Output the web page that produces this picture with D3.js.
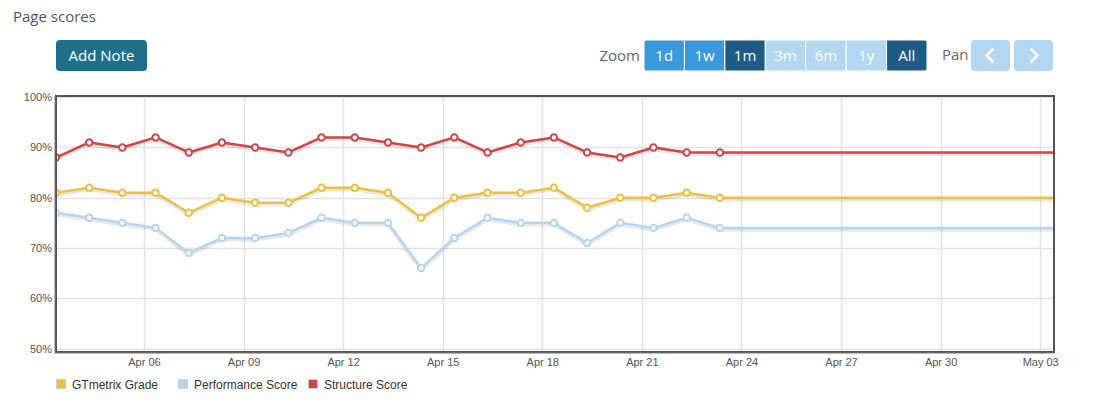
<!DOCTYPE html>
<html>
<head>
<meta charset="utf-8">
<script src="https://cdn.jsdelivr.net/npm/d3@7"></script>
<style>
  body { margin: 0; background: #fff; }
  svg { display: block; }
</style>
</head>
<body>
<svg id="chart" width="1106" height="404"></svg>
<script>
// data
const days = ["2015-04-03", "2015-04-04", "2015-04-05", "2015-04-06", "2015-04-07", "2015-04-08", "2015-04-09",
    "2015-04-10", "2015-04-11", "2015-04-12", "2015-04-13", "2015-04-14", "2015-04-15", "2015-04-16",
    "2015-04-17", "2015-04-18", "2015-04-19", "2015-04-20", "2015-04-21", "2015-04-22", "2015-04-23"];
const gtmetrix = [81, 82, 81, 81, 77, 80, 79, 79, 82, 82, 81, 76, 80, 81, 81, 82, 78, 80, 80, 81, 80];
const performance = [77, 76, 75, 74, 69, 72, 72, 73, 76, 75, 75, 66, 72, 76, 75, 75, 71, 75, 74, 76, 74];
const structure = [88, 91, 90, 92, 89, 91, 90, 89, 92, 92, 91, 90, 92, 89, 91, 92, 89, 88, 90, 89, 89];
const seriesNames = ["GTmetrix Grade", "Performance Score", "Structure Score"];
const seriesColors = ["#efc03f", "#b2d6f2", "#cc4746"];
const yTicks = [50, 60, 70, 80, 90, 100];
const xTicks = ["2015-04-06", "2015-04-09", "2015-04-12", "2015-04-15", "2015-04-18", "2015-04-21",
    "2015-04-24", "2015-04-27", "2015-04-30", "2015-05-03"];
const rangeStart = "2015-04-03 08:24", rangeEnd = "2015-05-03 10:00";
const zoomLabels = ["1d", "1w", "1m", "3m", "6m", "1y", "All"];
const zoomState = ["on", "on", "active", "off", "off", "off", "active"];

const parseTime = d3.timeParse("%Y-%m-%d %H:%M"),
    parseDay = d3.timeParse("%Y-%m-%d");
const svg = d3.select("#chart");

const pLeft = 56, pRight = 1054, pTop = 96, pBottom = 352;

const x = d3.scaleTime()
    .domain([parseTime(rangeStart), parseTime(rangeEnd)])
    .range([pLeft, pRight]);
const y = d3.scaleLinear().domain([50, 100]).range([348.5, 97.2]);

// header
svg.append("text").attr("x", 13).attr("y", 22)
    .attr("font-family", "Open Sans").attr("font-size", 15).attr("fill", "#555")
    .text("Page scores");

svg.append("rect").attr("x", 56).attr("y", 40).attr("width", 91).attr("height", 31)
    .attr("rx", 4).attr("fill", "#1f6f8b");
svg.append("text").attr("x", 101.5).attr("y", 61).attr("text-anchor", "middle")
    .attr("font-family", "Open Sans").attr("font-size", 15).attr("fill", "#fff")
    .text("Add Note");

svg.append("text").attr("x", 640).attr("y", 61).attr("text-anchor", "end")
    .attr("font-family", "Open Sans").attr("font-size", 15).attr("fill", "#666")
    .text("Zoom");

const btnFill = { on: "#3a98dc", active: "#1e5a84", off: "#b4d7f1" };
const bx = d3.scaleBand().domain(zoomLabels).range([644, 927]);
const zb = svg.append("g");
zb.append("clipPath").attr("id", "zclip").append("rect")
    .attr("x", 644).attr("y", 40).attr("width", 283).attr("height", 31).attr("rx", 4);
const zg = zb.append("g").attr("clip-path", "url(#zclip)");
zg.selectAll("rect").data(zoomLabels).join("rect")
    .attr("x", d => bx(d)).attr("y", 40).attr("width", bx.bandwidth()).attr("height", 31)
    .attr("fill", (d, i) => btnFill[zoomState[i]])
    .attr("stroke", "#fff").attr("stroke-width", 1);
zb.selectAll("text").data(zoomLabels).join("text")
    .attr("x", d => bx(d) + bx.bandwidth() / 2).attr("y", 61).attr("text-anchor", "middle")
    .attr("font-family", "Open Sans").attr("font-size", 15).attr("fill", "#fff")
    .text(d => d);

svg.append("text").attr("x", 942).attr("y", 60)
    .attr("font-family", "Open Sans").attr("font-size", 15).attr("fill", "#666")
    .text("Pan");
[971, 1014].forEach((px, i) => {
    svg.append("rect").attr("x", px).attr("y", 40).attr("width", 39).attr("height", 31)
        .attr("rx", 4).attr("fill", "#b4d7f1");
    const cx = px + 19.5, cy = 55.5, d = i === 0 ? 1 : -1;
    svg.append("path")
        .attr("d", `M${cx + 3 * d},${cy - 7} L${cx - 4 * d},${cy} L${cx + 3 * d},${cy + 7}`)
        .attr("fill", "none").attr("stroke", "#fff").attr("stroke-width", 2.5);
});

// grid
const grid = svg.append("g");
grid.selectAll(".hg").data(yTicks).join("line")
    .attr("x1", pLeft).attr("x2", pRight)
    .attr("y1", d => Math.round(y(d)) + 0.5).attr("y2", d => Math.round(y(d)) + 0.5)
    .attr("stroke", "#e2e2e2").attr("stroke-width", 1.5);
grid.selectAll(".vg").data(xTicks).join("line")
    .attr("x1", d => Math.round(x(parseDay(d))) + 0.5).attr("x2", d => Math.round(x(parseDay(d))) + 0.5)
    .attr("y1", pTop).attr("y2", pBottom)
    .attr("stroke", "#e2e2e2").attr("stroke-width", 1.5);

// axes labels
const yAxis = d3.axisLeft(y).tickValues(yTicks).tickSize(0).tickPadding(4).tickFormat(d => d + "%");
svg.append("g").attr("transform", `translate(${pLeft},0)`).call(yAxis)
    .call(g => g.select(".domain").remove())
    .selectAll("text").attr("font-family", "Liberation Sans, Arial").attr("font-size", 11).attr("fill", "#545454");

const xAxis = d3.axisBottom(x).tickValues(xTicks.map(parseDay)).tickSize(0).tickPadding(6)
    .tickFormat(d3.timeFormat("%b %d"));
svg.append("g").attr("transform", `translate(0,${pBottom})`).call(xAxis)
    .call(g => g.select(".domain").remove())
    .selectAll("text").attr("font-family", "Liberation Sans, Arial").attr("font-size", 11).attr("fill", "#545454");

// lines
const allSeries = [gtmetrix, performance, structure];
const line = d3.line().x(d => x(d.t)).y(d => y(d.v));
const plot = svg.append("g");
plot.append("clipPath").attr("id", "pclip").append("rect")
    .attr("x", pLeft).attr("y", pTop).attr("width", pRight - pLeft).attr("height", pBottom - pTop);
const pg = plot.append("g").attr("clip-path", "url(#pclip)");

allSeries.forEach((vals, si) => {
    const pts = vals.map((v, i) => ({ t: parseTime(days[i] + " 08:24"), v }));
    // flat extension of last value to the end of the range
    const ext = pts.concat([{ t: x.domain()[1], v: vals[vals.length - 1] }]);
    pg.append("path").datum(ext).attr("d", line)
        .attr("transform", "translate(0,2)")
        .attr("fill", "none").attr("stroke", "rgba(0,0,0,0.09)").attr("stroke-width", 3.5);
    pg.append("path").datum(ext).attr("d", line)
        .attr("fill", "none").attr("stroke", seriesColors[si]).attr("stroke-width", 2.5)
        .attr("stroke-linejoin", "round");
    pg.selectAll(null).data(pts).join("circle")
        .attr("cx", d => x(d.t)).attr("cy", d => y(d.v)).attr("r", 3.2)
        .attr("fill", "#fff").attr("stroke", seriesColors[si]).attr("stroke-width", 2);
});

// frame
svg.append("rect").attr("x", pLeft).attr("y", pTop).attr("width", pRight - pLeft).attr("height", pBottom - pTop)
    .attr("fill", "none").attr("stroke", "#555").attr("stroke-width", 2);
svg.append("path")
    .attr("d", `M${pLeft - 1},${pTop} L${pLeft - 1},${pBottom + 1} L${pRight},${pBottom + 1}`)
    .attr("fill", "none").attr("stroke", "#777").attr("stroke-width", 1);

// legend
const legX = [56, 178, 308];
const leg = svg.append("g");
seriesNames.forEach((name, i) => {
    leg.append("rect").attr("x", legX[i] + 0.5).attr("y", 379.5).attr("width", 9).attr("height", 9)
        .attr("fill", seriesColors[i]).attr("stroke", "#ccc").attr("stroke-width", 1);
    leg.append("text").attr("x", legX[i] + 16).attr("y", 389)
        .attr("font-family", "Liberation Sans, Arial").attr("font-size", 12).attr("fill", "#333")
        .text(name);
});
</script>
</body>
</html>
